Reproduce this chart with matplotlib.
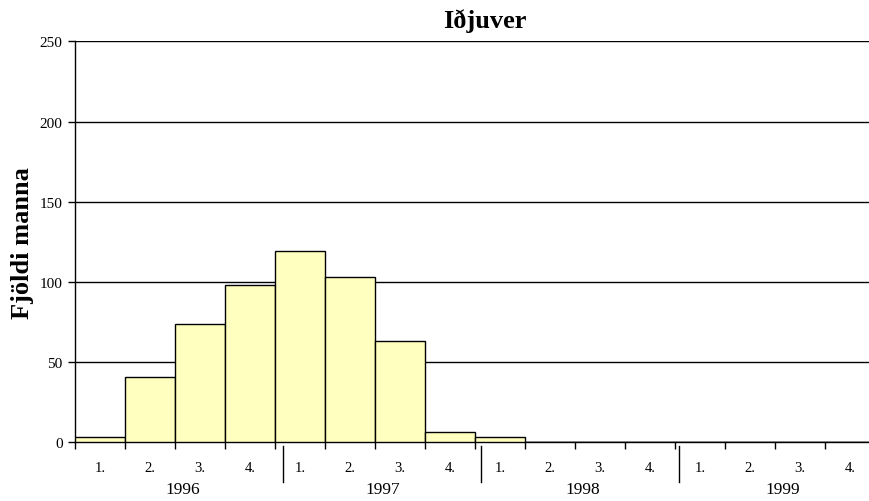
import numpy as np
import matplotlib.pyplot as plt

# Data
years = ["1996", "1997", "1998", "1999"]
quarters = ["1.", "2.", "3.", "4."]
values = [3.5, 41, 74, 98, 119, 103, 63, 6.5, 3, 0, 0, 0, 0, 0, 0, 0]

plt.rcParams['font.family'] = ['Liberation Serif', 'DejaVu Serif']

fig = plt.figure(figsize=(8.69, 5.02), dpi=100)
W, H = 869, 502
ax = fig.add_axes([75 / W, (H - 443.3) / H, 800 / W, 401 / H])

x = np.arange(len(values))
ax.bar(x + 0.5, values, width=1.0, color="#ffffc0", edgecolor="black", linewidth=1.0, zorder=3)

ax.set_xlim(0, len(values))
ax.set_ylim(0, 250)
ax.set_yticks(np.arange(0, 251, 50))
ax.tick_params(axis="y", direction="out", length=5, width=1, labelsize=11, pad=4)
ax.yaxis.grid(True, color="black", linewidth=1.0, zorder=0)

# quarter boundary ticks on x axis
ax.set_xticks(np.arange(0, len(values) + 1))
ax.set_xticklabels([])
ax.tick_params(axis="x", direction="out", length=5, width=1)

for s in ["top", "right"]:
    ax.spines[s].set_visible(False)
ax.spines["left"].set_linewidth(1.0)
ax.spines["bottom"].set_linewidth(1.0)

trans = ax.get_xaxis_transform()
for i in range(len(values)):
    ax.text(i + 0.5, -0.062, quarters[i % 4], transform=trans,
            ha="center", va="center", fontsize=10.5)

# year labels and separators (offset as in the original)
for k, yr in enumerate(years):
    ax.text(4 * k + 2.16, -0.117, yr, transform=trans,
            ha="center", va="center", fontsize=12.5)
for k in range(1, 4):
    ax.plot([4 * k + 0.16 - 0.04 * (k - 1)] * 2, [-0.009, -0.098], transform=trans,
            color="black", linewidth=1.0, clip_on=False)

fig.text(485 / W, 1 - 21 / H, "Iðjuver", ha="center", va="center",
         fontsize=19, fontweight="bold")
fig.text(23 / W, 1 - 243 / H, "Fjöldi manna", ha="center", va="center",
         rotation=90, fontsize=19, fontweight="bold")

fig.savefig("out.png", dpi=100)
